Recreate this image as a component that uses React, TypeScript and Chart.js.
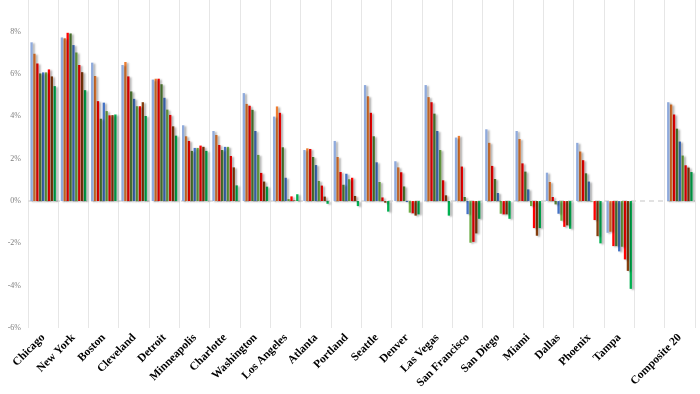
import React, { useEffect, useRef } from "react";
import { Chart, registerables } from "chart.js";

Chart.register(...registerables);

const categories = [
  "Chicago", "New York", "Boston", "Cleveland", "Detroit", "Minneapolis", "Charlotte",
  "Washington", "Los Angeles", "Atlanta", "Portland", "Seattle", "Denver", "Las Vegas",
  "San Francisco", "San Diego", "Miami", "Dallas", "Phoenix", "Tampa", "", "Composite 20",
];

const series1 = [7.50, 7.73, 6.54, 6.43, 5.74, 3.58, 3.31, 5.10, 3.99, 2.41, 2.84, 5.48, 1.88, 5.48, 3.00, 3.39, 3.31, 1.34, 2.75, -1.50, null, 4.67];
const series2 = [6.96, 7.69, 5.91, 6.57, 5.78, 3.06, 3.12, 4.59, 4.47, 2.49, 2.08, 4.95, 1.59, 4.91, 3.08, 2.75, 2.93, 0.90, 2.34, -1.45, null, 4.56];
const series3 = [6.50, 7.95, 4.72, 5.89, 5.78, 2.84, 2.65, 4.50, 4.17, 2.46, 1.37, 4.17, 1.36, 4.67, 1.63, 1.66, 1.78, 0.19, 1.93, -2.13, null, 4.09];
const series4 = [6.03, 7.92, 3.89, 5.18, 5.52, 2.37, 2.41, 4.31, 2.54, 2.08, 0.77, 3.06, 0.69, 4.13, 0.19, 1.04, 1.39, -0.16, 1.31, -2.13, null, 3.42];
const series5 = [6.08, 7.37, 4.65, 4.83, 4.88, 2.51, 2.56, 3.31, 1.10, 1.70, 1.29, 1.83, -0.05, 3.31, -0.62, 0.38, 0.55, -0.60, 0.92, -2.38, null, 2.81];
const series6 = [6.08, 7.02, 4.25, 4.48, 4.32, 2.51, 2.56, 2.18, 0.09, 0.95, 1.03, 0.90, -0.55, 2.41, -1.97, -0.60, -0.24, -0.93, -0.02, -2.16, null, 2.15];
const series7 = [6.22, 6.43, 4.05, 4.48, 4.07, 2.62, 2.13, 1.33, 0.22, 0.73, 1.10, 0.17, -0.58, 0.98, -1.93, -0.63, -1.28, -1.22, -0.90, -2.76, null, 1.69];
const series8 = [5.89, 6.09, 4.06, 4.67, 3.53, 2.56, 1.59, 0.92, 0.03, 0.21, 0.24, -0.08, -0.69, 0.27, -1.53, -0.63, -1.64, -1.15, -1.66, -3.30, null, 1.58];
const series9 = [5.43, 5.24, 4.09, 4.02, 3.09, 2.37, 0.74, 0.68, 0.32, -0.13, -0.24, -0.50, -0.63, -0.69, -0.84, -0.84, -1.28, -1.31, -2.00, -4.15, null, 1.37];

const seriesNames = ["Series 1", "Series 2", "Series 3", "Series 4", "Series 5", "Series 6", "Series 7", "Series 8", "Series 9"];
const seriesData = [series1, series2, series3, series4, series5, series6, series7, series8, series9];
const seriesColors = ["#8faadc", "#ed7d31", "#ff0000", "#548235", "#4472c4", "#70ad47", "#ff0000", "#843c0c", "#00b050"];

const yTicks = [-6, -4, -2, 0, 2, 4, 6, 8];

const shadowPlugin = {
  id: "barShadow",
  beforeDatasetsDraw(chart: any) {
    const { ctx, chartArea, scales } = chart;
    const y0 = scales.y.getPixelForValue(0);
    ctx.save();
    ctx.strokeStyle = "#d9d9d9";
    ctx.lineWidth = 1.5;
    ctx.setLineDash([5, 4]);
    ctx.beginPath();
    ctx.moveTo(chartArea.left, y0);
    ctx.lineTo(chartArea.right, y0);
    ctx.stroke();
    ctx.restore();
    ctx.save();
    ctx.shadowColor = "rgba(0,0,0,0.32)";
    ctx.shadowOffsetX = 2;
    ctx.shadowOffsetY = 1;
    ctx.shadowBlur = 2;
  },
  afterDatasetsDraw(chart: any) {
    chart.ctx.restore();
  },
};

export default function App() {
  const ref = useRef<HTMLCanvasElement | null>(null);

  useEffect(() => {
    document.body.style.margin = "0";
    if (!ref.current) return;
    const chart = new Chart(ref.current, {
      type: "bar",
      data: {
        labels: categories,
        datasets: seriesData.map((d, i) => ({
          label: seriesNames[i],
          data: d,
          backgroundColor: seriesColors[i],
          borderWidth: 0,
          categoryPercentage: 0.86,
          barPercentage: 0.8,
        })),
      },
      options: {
        animation: false,
        responsive: false,
        maintainAspectRatio: false,
        layout: { padding: { left: 0, right: 5, top: 0, bottom: 0 } },
        plugins: { legend: { display: false }, tooltip: { enabled: false } },
        scales: {
          x: {
            offset: true,
            grid: { display: true, offset: true, color: "#e6e6e6", lineWidth: 1, drawTicks: false },
            border: { display: false },
            ticks: {
              autoSkip: false,
              minRotation: 45,
              maxRotation: 45,
              padding: 3,
              color: "#000000",
              font: { family: "'Liberation Serif', 'DejaVu Serif', serif", size: 11.5, weight: "bold" },
            },
            afterFit(scale: any) {
              scale.height = 66;
              scale.paddingLeft = 0;
              scale.paddingRight = 0;
            },
          },
          y: {
            min: -6,
            max: 9.5,
            grid: { display: false, drawTicks: false },
            border: { display: false },
            afterBuildTicks(scale: any) {
              scale.ticks = yTicks.map((v) => ({ value: v }));
            },
            ticks: {
              padding: 7,
              color: "#7f7f7f",
              font: { family: "'Liberation Serif', 'DejaVu Serif', serif", size: 8 },
              callback: (v: any) => `${v}%`,
            },
            afterFit(scale: any) {
              scale.width = 28;
              scale.paddingTop = 0;
              scale.paddingBottom = 0;
            },
          },
        },
      },
      plugins: [shadowPlugin],
    });
    return () => chart.destroy();
  }, []);

  return (
    <div style={{ width: 700, height: 394, background: "#ffffff" }}>
      <canvas ref={ref} width={700} height={394} style={{ display: "block" }} />
    </div>
  );
}
